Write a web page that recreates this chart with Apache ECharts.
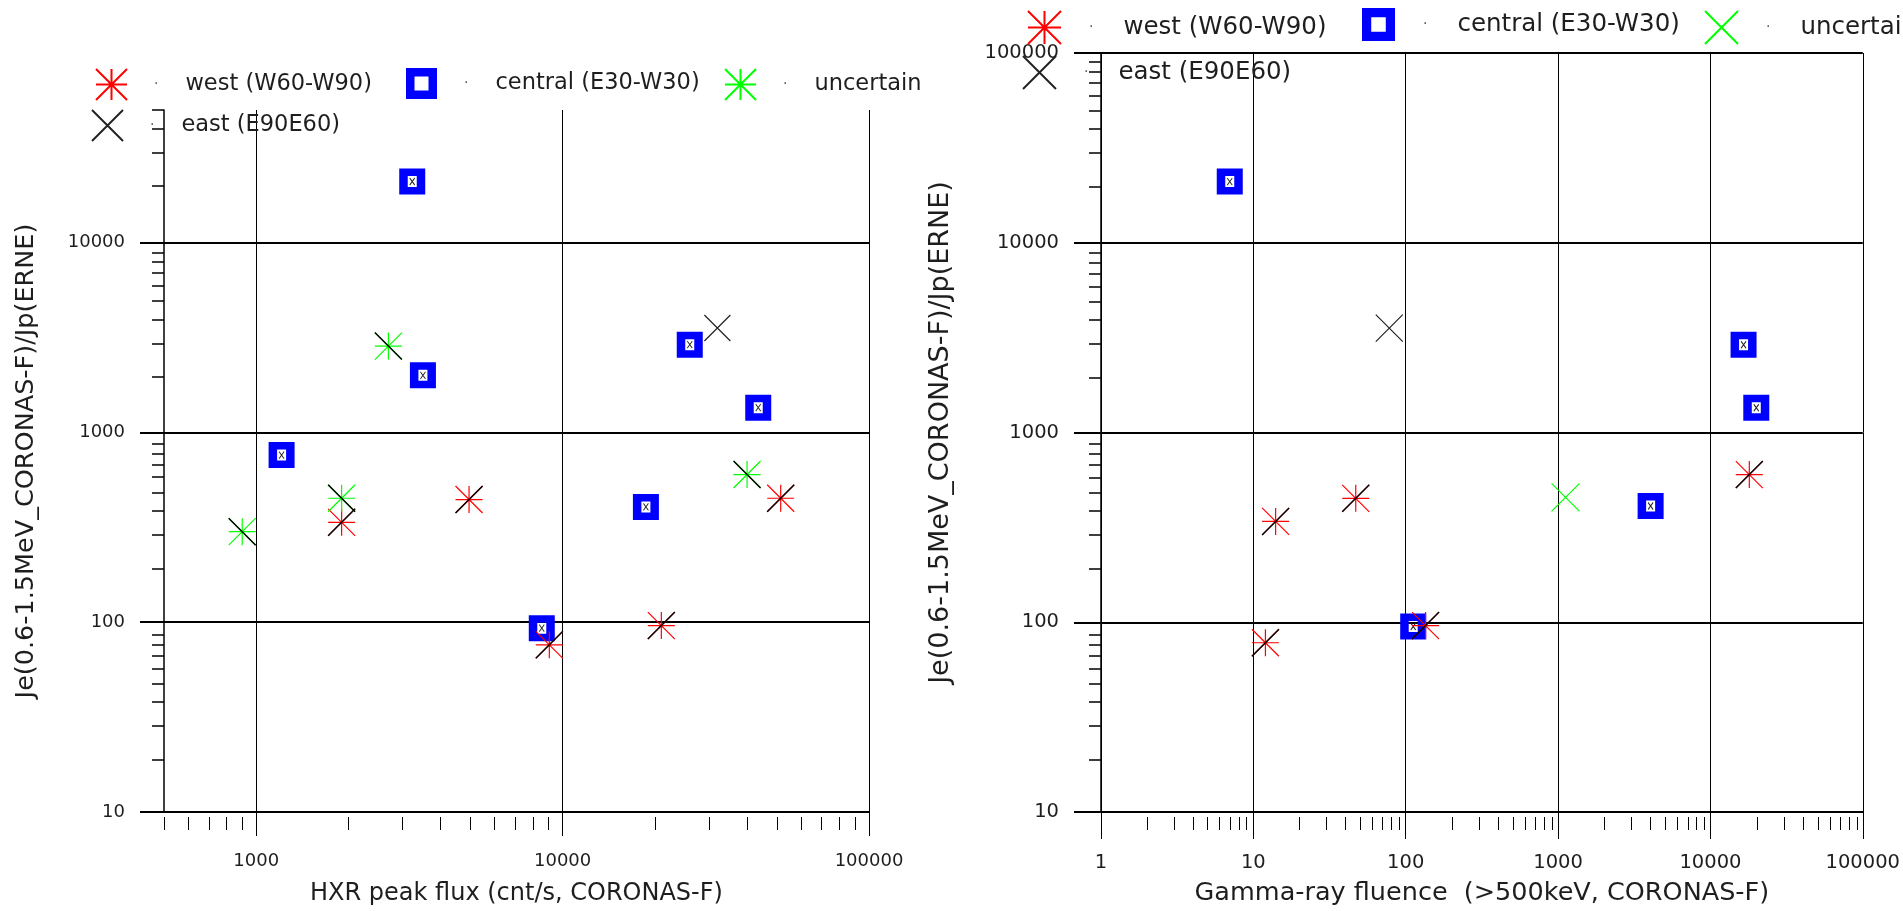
<!DOCTYPE html>
<html>
<head>
<meta charset="utf-8">
<script src="https://cdn.jsdelivr.net/npm/echarts@6/dist/echarts.min.js"></script>
<style>
  html, body { margin: 0; padding: 0; background: #fff; overflow: hidden; }
  #left { position: absolute; left: 0; top: 0; width: 930px; height: 911px; }
  #right { position: absolute; left: 905px; top: 0; width: 998px; height: 911px; }
</style>
</head>
<body>
<div id="left"></div>
<div id="right"></div>
<script>
// left panel: HXR peak flux vs Je/Jp, points as [x, y]
const hxrWest = [[1900, 336], [4950, 443], [9050, 76], [21000, 96], [51500, 450]]
const hxrCentral = [[3230, 21000], [3500, 2000], [1210, 760], [26000, 2900], [43500, 1350], [18700, 405], [8550, 93]]
const hxrUncertain = [[900, 300], [1900, 450], [2700, 2850], [40000, 600]]
const hxrEast = [[32000, 3550]]

// right panel: gamma-ray fluence vs Je/Jp
const gammaWest = [[14, 340], [47, 450], [12, 78], [135, 96], [18000, 600]]
const gammaCentral = [[7, 21000], [16500, 2900], [20000, 1350], [4050, 410], [112, 95]]
const gammaUncertain = [[1120, 455]]
const gammaEast = [[78, 3550]]

const seriesNames = ['west (W60-W90)', 'central (E30-W30)', 'uncertain', 'east (E90E60)']

// tick labels
const hxrMajor = [1000, 10000, 100000]
const hxrMinor = [500, 600, 700, 800, 900, 2000, 3000, 4000, 5000, 6000, 7000, 8000, 9000,
  20000, 30000, 40000, 50000, 60000, 70000, 80000, 90000]
const gammaMajor = [1, 10, 100, 1000, 10000, 100000]
const gammaMinor = [2, 3, 4, 5, 6, 7, 8, 9, 20, 30, 40, 50, 60, 70, 80, 90,
  200, 300, 400, 500, 600, 700, 800, 900, 2000, 3000, 4000, 5000, 6000, 7000, 8000, 9000,
  20000, 30000, 40000, 50000, 60000, 70000, 80000, 90000]
const ratioMajor = [10, 100, 1000, 10000, 100000]
const ratioMinorLeft = [20, 30, 40, 50, 60, 70, 80, 90, 200, 300, 400, 500, 600, 700, 800, 900,
  2000, 3000, 4000, 5000, 6000, 7000, 8000, 9000, 20000, 30000, 40000, 50000]
const ratioMinorRight = [20, 30, 40, 50, 60, 70, 80, 90, 200, 300, 400, 500, 600, 700, 800, 900,
  2000, 3000, 4000, 5000, 6000, 7000, 8000, 9000, 20000, 30000, 40000, 50000, 60000, 70000, 80000, 90000]

const FONT = 'DejaVu Sans'
const INK = '#1e1e1e'
const RED = '#ff0000'
const GREEN = '#00ff00'
const BLUE = '#0000ff'
const DARK = '#222'

const ASTERISK = 'path://M0,0L20,20M20,0L0,20M10,0L10,20M0,10L20,10'
const CROSS = 'path://M0,0L20,20M20,0L0,20'
const SLASH = 'path://M0,20L20,0'
const BACKSLASH = 'path://M0,0L20,20'
const SQUARE = 'path://M0,0H26V26H0Z M8.5,7.5V18.5H17.5V7.5Z'
const SQUARE_ICON = 'path://M0,0H31V31H0Z M8.5,8.5V22.5H22.5V8.5Z'

function strokeSeries(name, data, symbol, size, color, width) {
  return {
    name, type: 'scatter', data, symbol, symbolSize: size,
    itemStyle: { color, borderColor: color, borderWidth: width || 1.2, opacity: 1 },
    emphasis: { disabled: true }, z: 3
  }
}

function centralSeries(name, data) {
  return [
    { name, type: 'scatter', data, symbol: SQUARE, symbolSize: 26,
      itemStyle: { color: BLUE, opacity: 1 }, emphasis: { disabled: true }, z: 2 },
    // small cross inside the white hole
    { type: 'scatter', data, symbol: CROSS, symbolSize: [5, 7], silent: true,
      itemStyle: { color: '#000', borderColor: '#222', borderWidth: 1, opacity: 1 }, z: 2 }
  ]
}

function overlay(data, symbol, size) {
  return { type: 'scatter', data, symbol, symbolSize: size, silent: true,
    itemStyle: { color: '#000', borderColor: '#000', borderWidth: 1.4, opacity: 1 }, z: 4 }
}

function legendItem(name, left, top, size, fontSize, padL, padR, icon) {
  return {
    data: [icon ? { name, icon } : name],
    left, top, padding: 0,
    itemWidth: size, itemHeight: size,
    formatter: '{d|·}{t|{name}}',
    textStyle: {
      fontFamily: FONT, fontSize, color: INK,
      rich: {
        d: { fontFamily: FONT, fontSize: 14, color: '#555', padding: [0, padR, 0, padL] },
        t: { fontFamily: FONT, fontSize, color: INK }
      }
    }
  }
}

function axes(cfg) {
  const line = { color: '#000', width: 1 }
  const xMain = {
    gridIndex: 0, type: 'log', min: cfg.xMin, max: cfg.xMax,
    name: cfg.xName, nameLocation: 'middle', nameGap: cfg.xNameGap,
    nameTextStyle: { fontFamily: FONT, fontSize: cfg.xNameSize, color: INK },
    axisLine: { show: true, onZero: false, lineStyle: { color: '#000', width: 2 } },
    axisTick: { customValues: cfg.xMajor, length: cfg.majorLen, lineStyle: line },
    axisLabel: { customValues: cfg.xMajor, margin: cfg.xLabelMargin, formatter: v => String(v),
      fontFamily: FONT, fontSize: cfg.labelSize, color: INK },
    splitLine: { show: true, lineStyle: line }
  }
  const yMain = {
    gridIndex: 0, type: 'log', min: cfg.yMin, max: cfg.yMax,
    name: cfg.yName, nameLocation: 'middle', nameGap: cfg.yNameGap,
    nameTextStyle: { fontFamily: FONT, fontSize: cfg.yNameSize, color: INK },
    axisLine: { show: true, onZero: false, lineStyle: { color: '#000', width: 1.5 } },
    axisTick: { customValues: ratioMajor, length: cfg.majorLen, lineStyle: { color: '#000', width: 2 } },
    axisLabel: { customValues: ratioMajor, margin: cfg.yLabelMargin, formatter: v => String(v),
      fontFamily: FONT, fontSize: cfg.labelSize, color: INK },
    splitLine: { show: true, lineStyle: { color: '#000', width: 2 } }
  }
  // second grid on the same rect carries only the short minor ticks
  const xMinor = {
    gridIndex: 1, type: 'log', min: cfg.xMin, max: cfg.xMax,
    axisLine: { show: false, onZero: false },
    axisTick: { customValues: cfg.xMinor, length: 13, lineStyle: line },
    axisLabel: { show: false }, splitLine: { show: false }
  }
  const yMinor = {
    gridIndex: 1, type: 'log', min: cfg.yMin, max: cfg.yMax,
    axisLine: { show: false, onZero: false },
    axisTick: { customValues: cfg.yMinor, length: 12, lineStyle: { color: '#000', width: 1.5 } },
    axisLabel: { show: false }, splitLine: { show: false }
  }
  return { xAxis: [xMain, xMinor], yAxis: [yMain, yMinor] }
}

// ---- left chart ----
const leftChart = echarts.init(document.getElementById('left'), null, { renderer: 'canvas' })
const leftGrid = { left: 164, top: 110, width: 705, height: 707 }
leftChart.setOption({
  animation: false,
  backgroundColor: 'transparent',
  grid: [leftGrid, leftGrid],
  legend: [
    legendItem(seriesNames[0], 95, 68, 31, 22.5, 22, 27),
    legendItem(seriesNames[1], 406, 68, 31, 22.5, 22, 27, SQUARE_ICON),
    legendItem(seriesNames[2], 724, 68, 31, 22.5, 22, 27),
    legendItem(seriesNames[3], 91, 109, 31, 22.5, 22, 27)
  ],
  ...axes({
    xMin: 500, xMax: 100000, yMin: 10, yMax: 50000,
    xMajor: hxrMajor, xMinor: hxrMinor, yMinor: ratioMinorLeft,
    xName: 'HXR peak flux (cnt/s, CORONAS-F)', xNameGap: 70, xNameSize: 24,
    yName: 'Je(0.6-1.5MeV_CORONAS-F)/Jp(ERNE)', yNameGap: 125, yNameSize: 25.5,
    majorLen: 24, labelSize: 18, xLabelMargin: 40, yLabelMargin: 39
  }),
  series: [
    ...centralSeries(seriesNames[1], hxrCentral),
    strokeSeries(seriesNames[0], hxrWest, ASTERISK, 27, RED),
    overlay(hxrWest, SLASH, 27),
    strokeSeries(seriesNames[2], hxrUncertain, ASTERISK, 27, GREEN),
    overlay(hxrUncertain, BACKSLASH, 27),
    strokeSeries(seriesNames[3], hxrEast, CROSS, 26, DARK)
  ]
})

// ---- right chart ----
const rightChart = echarts.init(document.getElementById('right'), null, { renderer: 'canvas' })
const rightGrid = { left: 196, top: 53, width: 763, height: 764 }
rightChart.setOption({
  animation: false,
  backgroundColor: 'transparent',
  grid: [rightGrid, rightGrid],
  legend: [
    legendItem(seriesNames[0], 122, 10, 33, 24.5, 23, 30),
    legendItem(seriesNames[1], 457, 8, 33, 24.5, 23, 30, 'path://M0,0H34V34H0Z M9.5,9.5V24.5H24.5V9.5Z'),
    legendItem(seriesNames[2], 799, 10, 33, 24.5, 23, 30),
    legendItem(seriesNames[3], 117, 55, 33, 24.5, 23, 30)
  ],
  ...axes({
    xMin: 1, xMax: 100000, yMin: 10, yMax: 100000,
    xMajor: gammaMajor, xMinor: gammaMinor, yMinor: ratioMinorRight,
    xName: 'Gamma-ray fluence  (>500keV, CORONAS-F)', xNameGap: 68, xNameSize: 25.5,
    yName: 'Je(0.6-1.5MeV_CORONAS-F)/Jp(ERNE)', yNameGap: 147, yNameSize: 27,
    majorLen: 27, labelSize: 19.5, xLabelMargin: 41, yLabelMargin: 42
  }),
  series: [
    ...centralSeries(seriesNames[1], gammaCentral),
    strokeSeries(seriesNames[0], gammaWest, ASTERISK, 27, RED),
    overlay(gammaWest, SLASH, 27),
    strokeSeries(seriesNames[2], gammaUncertain, CROSS, 28, GREEN),
    strokeSeries(seriesNames[3], gammaEast, CROSS, 27, DARK)
  ]
})

window.addEventListener('resize', () => {
  leftChart.resize()
  rightChart.resize()
})
</script>
</body>
</html>
